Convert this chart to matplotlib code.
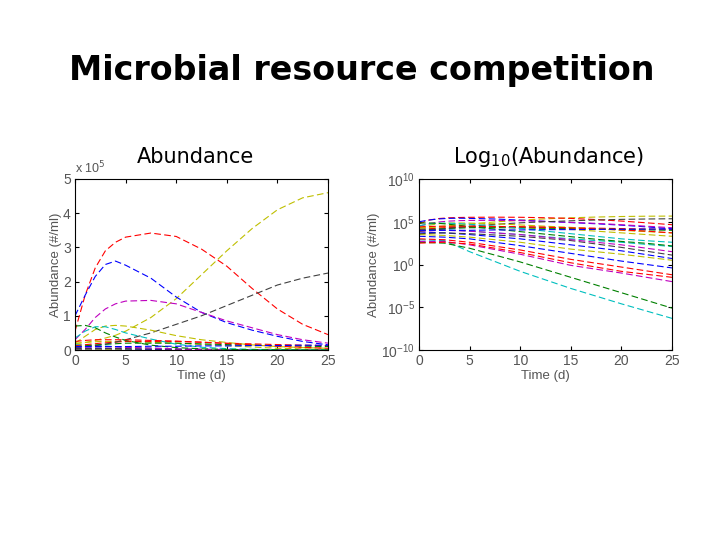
import numpy as np
import matplotlib
matplotlib.use('Agg')
import matplotlib.pyplot as plt
from matplotlib.ticker import FuncFormatter, FixedLocator, NullLocator

plt.rcParams['font.family'] = ['Liberation Sans', 'DejaVu Sans']

# Time grids (days)
t_fine = [0, 1, 2, 3, 4, 5, 7.5, 10, 12.5, 15, 17.5, 20, 22.5, 25]
t_coarse = [0, 2.5, 5, 10, 15, 20, 25]

# Dominant populations, abundance in units of 1e5 per ml
yellow_a = [0.18, 0.22, 0.28, 0.35, 0.43, 0.55, 0.95, 1.5, 2.2, 2.9, 3.55, 4.1, 4.45, 4.6]
red_a = [0.55, 1.6, 2.4, 2.9, 3.15, 3.3, 3.42, 3.32, 2.95, 2.45, 1.8, 1.2, 0.75, 0.45]
navy_a = [1.0, 1.6, 2.15, 2.5, 2.6, 2.48, 2.1, 1.55, 1.1, 0.8, 0.58, 0.4, 0.25, 0.15]
magenta_a = [0.3, 0.6, 0.95, 1.2, 1.35, 1.43, 1.45, 1.35, 1.1, 0.85, 0.65, 0.45, 0.3, 0.2]
gray_a = [0.08, 0.1, 0.13, 0.17, 0.23, 0.3, 0.5, 0.75, 1.0, 1.3, 1.6, 1.9, 2.1, 2.25]
olive_a = [0.2, 0.4, 0.6, 0.7, 0.72, 0.7, 0.58, 0.42, 0.3, 0.22, 0.15, 0.1, 0.07, 0.05]
cyan_a = [0.35, 0.55, 0.68, 0.68, 0.6, 0.5, 0.32, 0.17, 0.08, 0.04, 0.02, 0.01, 0.006, 0.004]
green_a = [0.7, 0.72, 0.65, 0.5, 0.38, 0.28, 0.14, 0.07, 0.035, 0.018, 0.009, 0.005, 0.003, 0.0015]
red_b = [0.25, 0.28, 0.3, 0.3, 0.3, 0.3, 0.28, 0.26, 0.23, 0.19, 0.15, 0.11, 0.08, 0.05]
blue_b = [0.1, 0.1, 0.1, 0.1, 0.1, 0.1, 0.11, 0.11, 0.12, 0.12, 0.13, 0.13, 0.14, 0.14]

main_series = [yellow_a, red_a, navy_a, magenta_a, gray_a, olive_a,
               cyan_a, green_a, red_b, blue_b]
main_colors = ['y', 'r', 'b', 'm', 'k', 'y', 'c', 'g', 'r', 'b']

# Rare populations, log10 abundance per ml
cyan_c = [2.9, 2.8, 1.5, -0.8, -2.8, -4.6, -6.3]
green_c = [2.6, 2.5, 1.9, 0.3, -1.5, -3.3, -5.1]
magenta_c = [2.7, 2.7, 2.3, 1.2, -0.1, -1.0, -2.0]
red_c = [2.5, 2.6, 2.4, 1.4, 0.2, -0.8, -1.5]
darkred_c = [3.0, 2.9, 2.6, 1.7, 0.6, -0.3, -1.2]
blue_c = [3.3, 3.2, 3.0, 2.2, 1.3, 0.4, -0.4]
olive_c = [3.5, 3.4, 3.2, 2.6, 1.8, 1.2, 0.5]
navy_c = [3.8, 3.7, 3.5, 3.0, 2.3, 1.6, 0.7]
teal_c = [4.2, 4.1, 3.9, 3.5, 3.0, 2.6, 2.1]
black_c = [3.6, 3.7, 3.6, 3.3, 2.8, 2.0, 1.1]
yellow_c = [4.3, 4.4, 4.4, 4.3, 4.1, 3.7, 3.3]
red2_c = [4.1, 4.3, 4.4, 4.4, 4.3, 4.2, 4.1]
green2_c = [4.0, 4.2, 4.3, 4.3, 4.2, 4.1, 4.0]
magenta2_c = [3.9, 4.0, 3.9, 3.5, 2.9, 2.3, 1.5]

rare_series = [cyan_c, green_c, magenta_c, red_c, darkred_c, blue_c, olive_c,
               navy_c, teal_c, black_c, yellow_c, red2_c, green2_c, magenta2_c]
rare_colors = ['c', 'g', 'm', 'r', 'r', 'b', 'y', 'b', 'c', 'k', 'y', 'r', 'g', 'm']

# MATLAB-style colour letters
mcol = {'b': (0, 0, 1), 'g': (0, 0.5, 0), 'r': (1, 0, 0), 'c': (0, 0.75, 0.75),
        'm': (0.75, 0, 0.75), 'y': (0.75, 0.75, 0), 'k': (0.25, 0.25, 0.25)}

fig = plt.figure(figsize=(7.2, 5.4), dpi=100)
fig.text(362 / 720, 1 - 80 / 540, 'Microbial resource competition', ha='center',
         va='baseline', fontsize=24, fontweight='bold', family='DejaVu Sans')

ax1 = fig.add_axes([75 / 720, 1 - 350 / 540, 253 / 720, 171 / 540])
ax2 = fig.add_axes([419 / 720, 1 - 350 / 540, 253 / 720, 171 / 540])

for vals, c in zip(rare_series, rare_colors):
    y = 10 ** np.array(vals)
    ax1.plot(t_coarse, y, '--', color=mcol[c], lw=0.8, dashes=(6, 3))
    ax2.plot(t_coarse, y, '--', color=mcol[c], lw=0.8, dashes=(6, 3))
for vals, c in zip(main_series, main_colors):
    y = np.array(vals) * 1e5
    ax1.plot(t_fine, y, '--', color=mcol[c], lw=0.8, dashes=(6, 3))
    ax2.plot(t_fine, y, '--', color=mcol[c], lw=0.8, dashes=(6, 3))

fig.text(195 / 720, 1 - 163 / 540, 'Abundance', ha='center', va='baseline',
         fontsize=15, family='DejaVu Sans')
fig.text(549 / 720, 1 - 163 / 540, r'Log$_{10}$(Abundance)', ha='center',
         va='baseline', fontsize=15, family='DejaVu Sans')

ax1.set_xlim(0, 25)
ax1.set_ylim(0, 5e5)
ax1.set_xticks([0, 5, 10, 15, 20, 25])
ax1.set_yticks([0, 1e5, 2e5, 3e5, 4e5, 5e5])
ax1.yaxis.set_major_formatter(FuncFormatter(lambda v, p: f'{v / 1e5:g}'))
ax1.text(0.0, 1.015, r'x 10$^5$', transform=ax1.transAxes, fontsize=9,
         color='#555555', ha='left', va='bottom')

ax2.set_yscale('log')
ax2.set_xlim(0, 25)
ax2.set_ylim(1e-10, 1e10)
ax2.set_xticks([0, 5, 10, 15, 20, 25])
ax2.yaxis.set_major_locator(FixedLocator([1e-10, 1e-5, 1, 1e5, 1e10]))
ax2.yaxis.set_minor_locator(NullLocator())

for ax in (ax1, ax2):
    ax.tick_params(direction='in', length=3, labelsize=10, top=True, right=True,
                   pad=3, labelcolor='#555555')
    ax.set_xlabel('Time (d)', fontsize=9.5, color='#555555', labelpad=1)
    ax.set_ylabel('Abundance (#/ml)', fontsize=9.5, color='#555555', labelpad=1)
    for s in ax.spines.values():
        s.set_linewidth(0.8)

fig.savefig('out.png', dpi=100)
